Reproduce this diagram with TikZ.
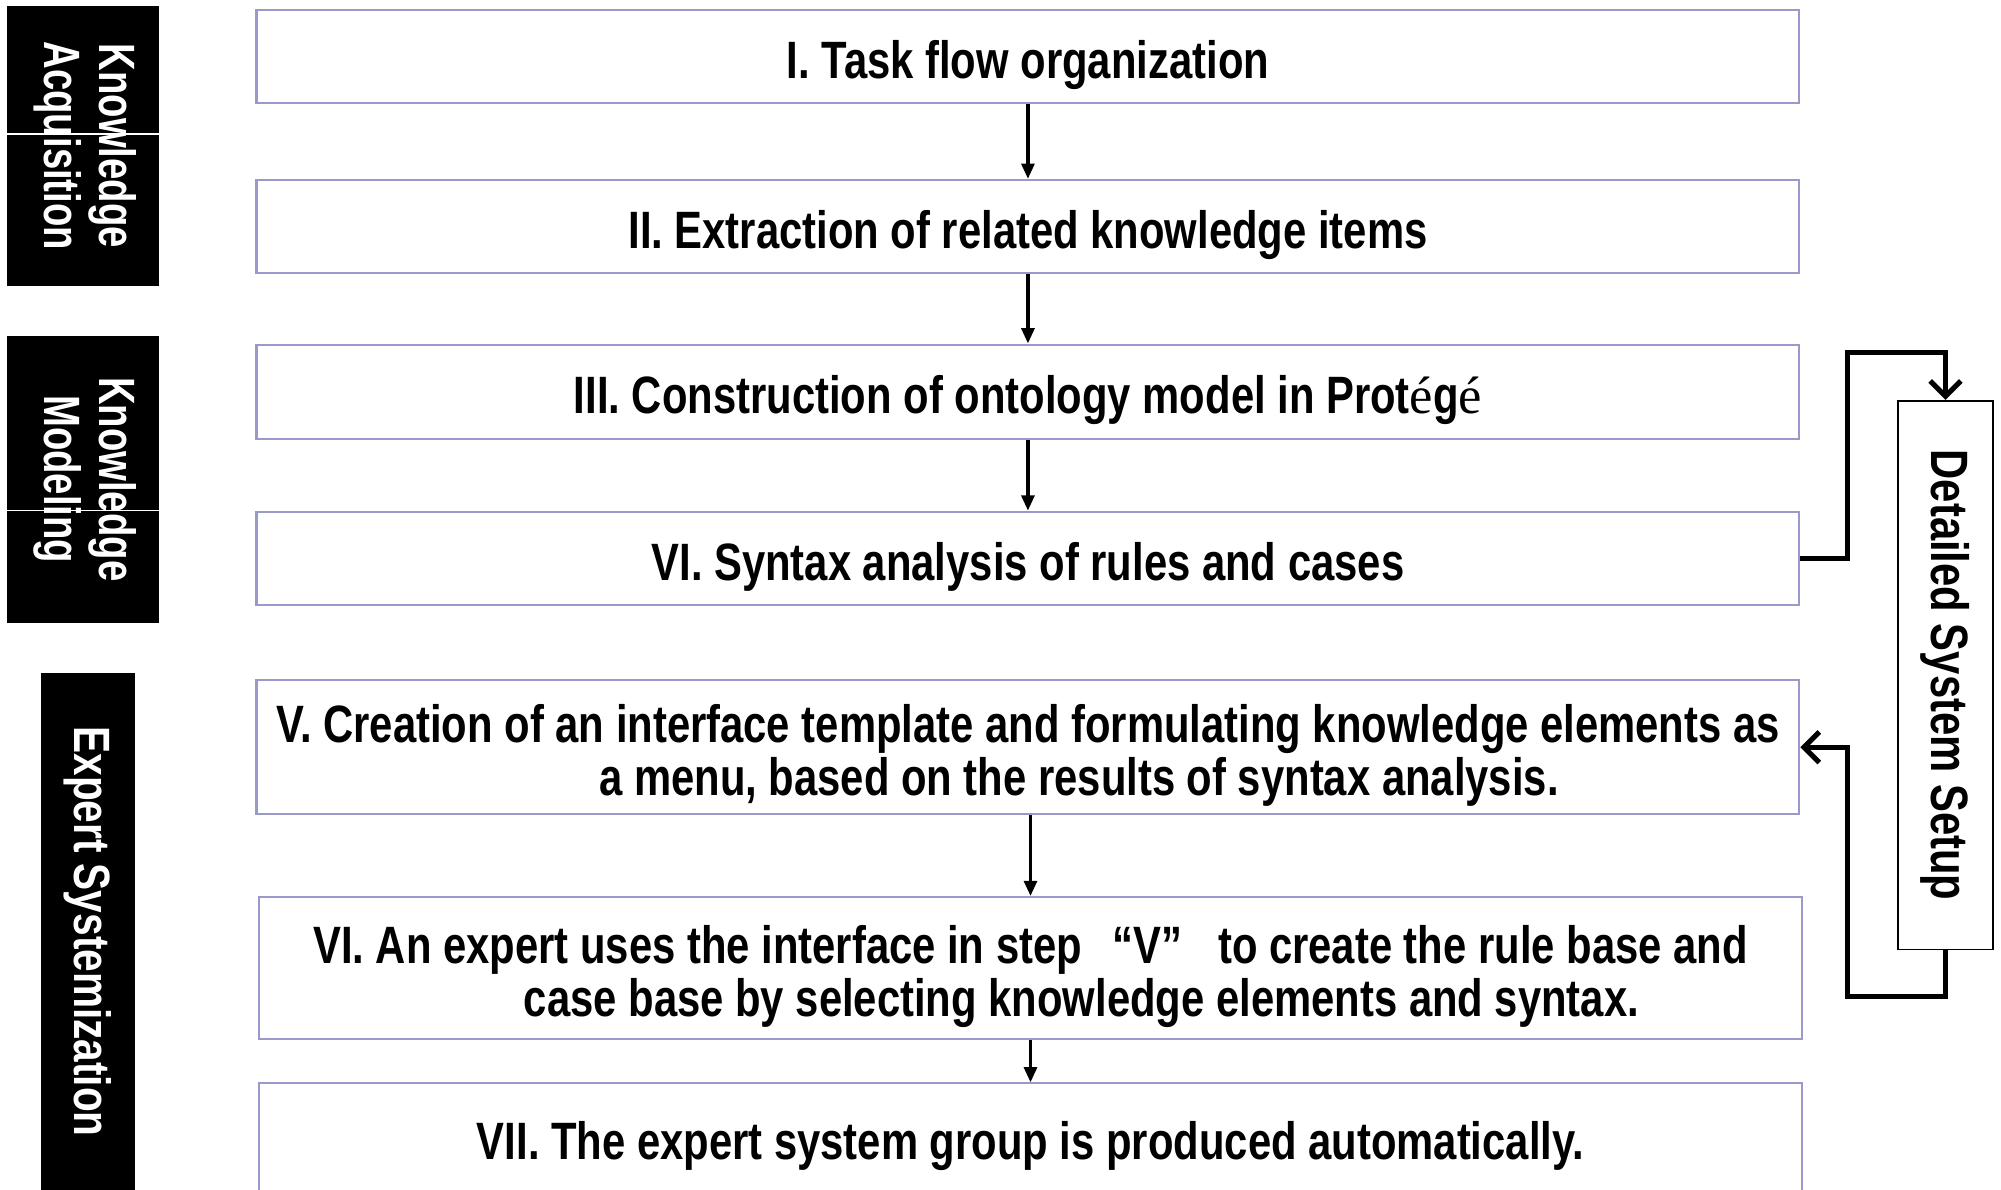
\documentclass[tikz,border=0pt]{standalone}
\usepackage{fontspec}
\usetikzlibrary{arrows.meta}
\newfontfamily\stepfont[FakeStretch=0.795]{Liberation Sans}
\newfontfamily\sidefont[FakeStretch=0.75]{Liberation Sans}
\newfontfamily\accfont{Liberation Serif}
\definecolor{boxline}{RGB}{153,153,204}
\newcommand{\acc}[1]{{\accfont\mdseries #1}}
\newcommand{\lift}{\rule{0pt}{21.5pt}}
\begin{document}
\begin{tikzpicture}[x=0.5pt, y=-0.5pt,
		stepbox/.style={draw=boxline, line width=0.8pt, minimum width=604.5pt, align=center, inner sep=0pt, font=\stepfont\bfseries\fontsize{20.6}{20.8}\selectfont},
		sidebox/.style={fill=black, text=white, inner sep=0pt, font=\sidefont\bfseries\fontsize{20}{21.5}\selectfont},
		flow/.style={-{Triangle[length=6pt,width=5pt]}, line width=1.4pt},
		loop/.style={-{Straight Barb[length=6pt,width=12pt]}, line width=2pt}]
	\useasboundingbox (0,0) rectangle (1568,932);
	\clip (0,0) rectangle (1568,932);
	\node[stepbox, minimum height=36.5pt] (s1) at (805.5,44.5) {\lift I. Task flow organization};
	\node[stepbox, minimum height=36.5pt] (s2) at (805.5,177.5) {\lift II. Extraction of related knowledge items};
	\node[stepbox, minimum height=37pt] (s3) at (805.5,307) {\lift III. Construction of ontology model in Prot\acc{é}g\acc{é}};
	\node[stepbox, minimum height=36.5pt] (s4) at (805.5,437.5) {\lift VI. Syntax analysis of rules and cases};
	\node[stepbox, minimum height=52.5pt] (s5) at (805.5,585.5) {\lift V. Creation of an interface template and formulating knowledge elements as\\\hspace*{40pt}a menu, based on the results of syntax analysis.};
	\node[stepbox, minimum height=55.5pt] (s6) at (807.5,758.5) {\lift VI. An expert uses the interface in step\hspace{12pt}“V”\hspace{14pt}to create the rule base and\\\hspace*{40pt}case base by selecting knowledge elements and syntax.};
	\node[stepbox, minimum height=42.5pt] (s7) at (807.5,891.5) {\lift VII. The expert system group is produced automatically.};
	\node[draw, line width=0.7pt, minimum width=37.5pt, minimum height=215pt, inner sep=0pt, font=\stepfont\bfseries\fontsize{20.6}{20.8}\selectfont] (dss) at (1524.5,529) {\rotatebox{-90}{Detailed System Setup}};
	\node[sidebox, minimum width=59.5pt, minimum height=109.7pt] (ka) at (65,114.3) {\rotatebox{-90}{\begin{tabular}{@{}c@{}}Knowledge\\Acquisition\end{tabular}}};
	\node[sidebox, minimum width=59.5pt, minimum height=112.5pt] (km) at (65,375.5) {\rotatebox{-90}{\begin{tabular}{@{}c@{}}Knowledge\\Modeling\end{tabular}}};
	\node[sidebox, minimum width=37pt, minimum height=203pt, font=\stepfont\bfseries\fontsize{20}{21.5}\selectfont] (es) at (69,730) {\rotatebox{-90}{Expert Systemization}};
	\coordinate (kacut) at (0,105);
	\coordinate (kmcut) at (0,400);
	\draw[white, line width=0.6pt] (ka.west |- kacut) -- (ka.east |- kacut);
	\draw[white, line width=0.6pt] (km.west |- kmcut) -- (km.east |- kmcut);
	\draw[flow] (s1) -- (s2);
	\draw[flow] (s2) -- (s3);
	\draw[flow] (s3) -- (s4);
	\draw[flow] (s5.south -| s6.north) -- (s6.north);
	\draw[flow] (s6.south -| s7.north) -- (s7.north);
	\coordinate (up) at (1448,276);
	\coordinate (down) at (1448,781);
	\draw[loop] (s4.east) -| (up) -| (dss.north);
	\draw[loop] (dss.south) |- (down) |- (s5.east);
\end{tikzpicture}
\end{document}
